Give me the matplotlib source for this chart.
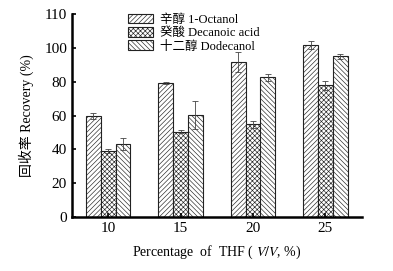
import matplotlib
matplotlib.use('Agg')
import matplotlib.pyplot as plt
import numpy as np

# ── Data ──────────────────────────────────────────────────────────────────────
thf_pct = ['10', '15', '20', '25']
series_names = ['辛醇 1-Octanol', '癸酸 Decanoic acid', '十二醇 Dodecanol']
octanol = [59.8, 79.1, 91.5, 101.8]
decanoic = [39.0, 50.5, 54.8, 77.9]
dodecanol = [43.0, 60.4, 82.6, 95.0]
octanol_err = [2.0, 0.5, 6.0, 2.5]
decanoic_err = [1.0, 1.0, 2.0, 2.5]
dodecanol_err = [3.5, 8.5, 2.0, 1.3]
ytick_vals = [0, 20, 40, 60, 80, 100, 120]
ytick_labels = ['0', '20', '40', '60', '80', '100', '110']

# ── Plot ──────────────────────────────────────────────────────────────────────
plt.rcParams['font.family'] = ['Liberation Serif', 'Noto Sans CJK SC']
plt.rcParams['mathtext.fontset'] = 'stix'
plt.rcParams['hatch.color'] = '#8a8a8a'
plt.rcParams['hatch.linewidth'] = 0.45

fig = plt.figure(figsize=(3.93, 2.71), dpi=100)
ax = fig.add_axes([0.183, 0.199, 0.737, 0.749])

x = np.arange(len(thf_pct))
w = 0.205
hatches = ['///////', 'xxxxxxx', '\\\\\\\\\\\\\\']
vals = [octanol, decanoic, dodecanol]
errs = [octanol_err, decanoic_err, dodecanol_err]
for i in range(3):
    ax.bar(x + (i - 1) * w, vals[i], w, yerr=errs[i], color='white',
           edgecolor='#222222', linewidth=0.8, hatch=hatches[i],
           label=series_names[i],
           error_kw=dict(ecolor='#444444', elinewidth=0.6, capsize=2, capthick=0.6))

ax.set_xlim(-0.5, 3.5)
ax.set_ylim(0, 120)
ax.set_xticks(x)
ax.set_xticklabels(thf_pct)
ax.set_yticks(ytick_vals)
ax.set_yticklabels(ytick_labels)
ax.tick_params(direction='in', length=3, width=1.2, labelsize=11)
for s in ['top', 'right']:
    ax.spines[s].set_visible(False)
for s in ['left', 'bottom']:
    ax.spines[s].set_linewidth(1.8)

ax.set_ylabel('回收率 Recovery (%)', fontsize=10, labelpad=7)
ax.set_xlabel('Percentage  of  THF ( $\\mathit{V/V}$, %)', fontsize=10, labelpad=6)

ax.legend(loc='upper left', bbox_to_anchor=(0.165, 1.045), frameon=False,
          fontsize=9, handlelength=2.0, handleheight=0.8, handletextpad=0.5,
          labelspacing=0.1, borderpad=0.2)

fig.savefig('out.png', dpi=100)
